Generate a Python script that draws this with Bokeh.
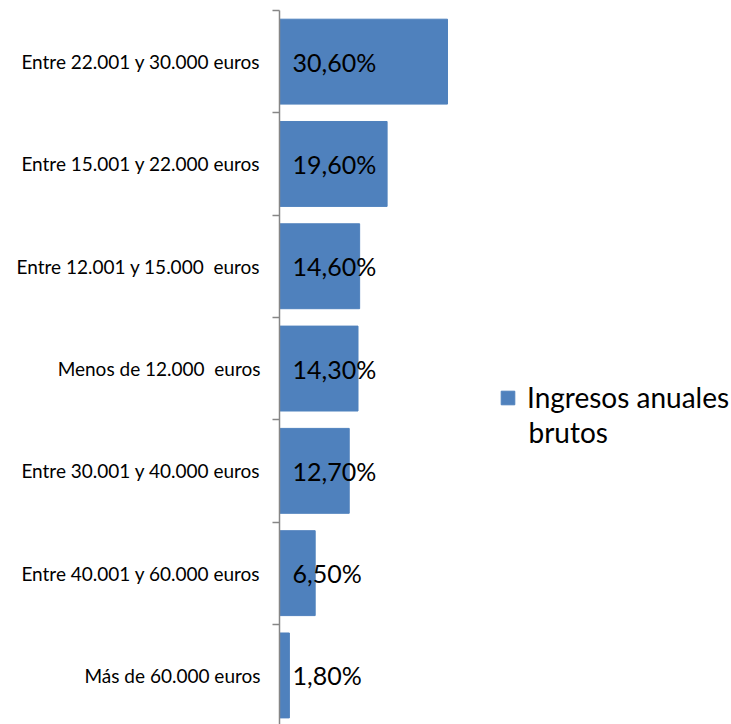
from bokeh.plotting import figure
from bokeh.models import ColumnDataSource, Range1d, FixedTicker, Legend, LegendItem, Label
from bokeh.core.properties import value
from bokeh.embed import file_html
from bokeh.resources import INLINE

categories = [
    "Entre 22.001 y 30.000 euros",
    "Entre 15.001 y 22.000 euros",
    "Entre 12.001 y 15.000\u00a0 euros",
    "Menos de 12.000\u00a0 euros",
    "Entre 30.001 y 40.000 euros",
    "Entre 40.001 y 60.000 euros",
    "Más de 60.000 euros",
]
values = [30.6, 19.6, 14.6, 14.3, 12.7, 6.5, 1.8]
series_name = ["Ingresos anuales", "brutos"]

FONT = "Lato"
BAR = "#4F81BD"

pos = list(range(len(categories)))
labels = [f"{v:.2f}".replace(".", ",") + "%" for v in values]
src = ColumnDataSource(dict(y=pos, v=values, zero=[0] * len(values), lab=labels))

W, H = 731, 724
LEFT, TOP = 279, 10
frame_w = W - LEFT
frame_h = H - TOP
px_per_unit = 5.49
band_px = 102.3

p = figure(width=W, height=H, output_backend="svg", toolbar_location=None,
           x_range=Range1d(0, frame_w / px_per_unit),
           y_range=Range1d(frame_h / band_px - 0.5, -0.5),
           min_border_left=LEFT, min_border_right=0, min_border_top=TOP, min_border_bottom=0,
           outline_line_color=None, background_fill_color="white", border_fill_color="white")
p.xaxis.visible = False
p.xgrid.visible = False
p.ygrid.visible = False

r = p.hbar(y="y", right="v", left=0, height=0.83, source=src, fill_color=BAR,
           line_color=BAR)

p.text(x="zero", y="y", text="lab", source=src, x_offset=13, text_baseline="middle",
       text_align="left", text_font=value(FONT), text_font_size="25px", text_color="black")

ax = p.yaxis[0]
ax.ticker = FixedTicker(ticks=pos, minor_ticks=[i - 0.5 for i in range(len(categories) + 1)])
ax.major_label_overrides = {i: c for i, c in enumerate(categories)}
ax.major_tick_out = 0
ax.major_tick_in = 0
ax.minor_tick_out = 7
ax.minor_tick_in = 0
ax.minor_tick_line_color = "#868686"
ax.minor_tick_line_width = 1.5
ax.axis_line_color = "#868686"
ax.axis_line_width = 1.5
ax.major_label_standoff = 12
ax.major_label_text_font = FONT
ax.major_label_text_font_size = "19px"
ax.major_label_text_color = "black"

legend = Legend(items=[LegendItem(label=series_name[0], renderers=[r])],
                location=(220, 310), label_text_font=FONT, label_text_font_size="28px",
                label_text_color="black", glyph_width=17, glyph_height=17,
                label_standoff=11, padding=6, margin=0, border_line_color=None,
                background_fill_alpha=0)
p.add_layout(legend, "center")

p.add_layout(Label(x=249, y=H - 431, x_units="screen", y_units="screen", text=series_name[1],
                   text_font=FONT, text_font_size="28px", text_color="black",
                   text_baseline="middle", text_align="left"))

open("out.html", "w").write(file_html(p, INLINE))
